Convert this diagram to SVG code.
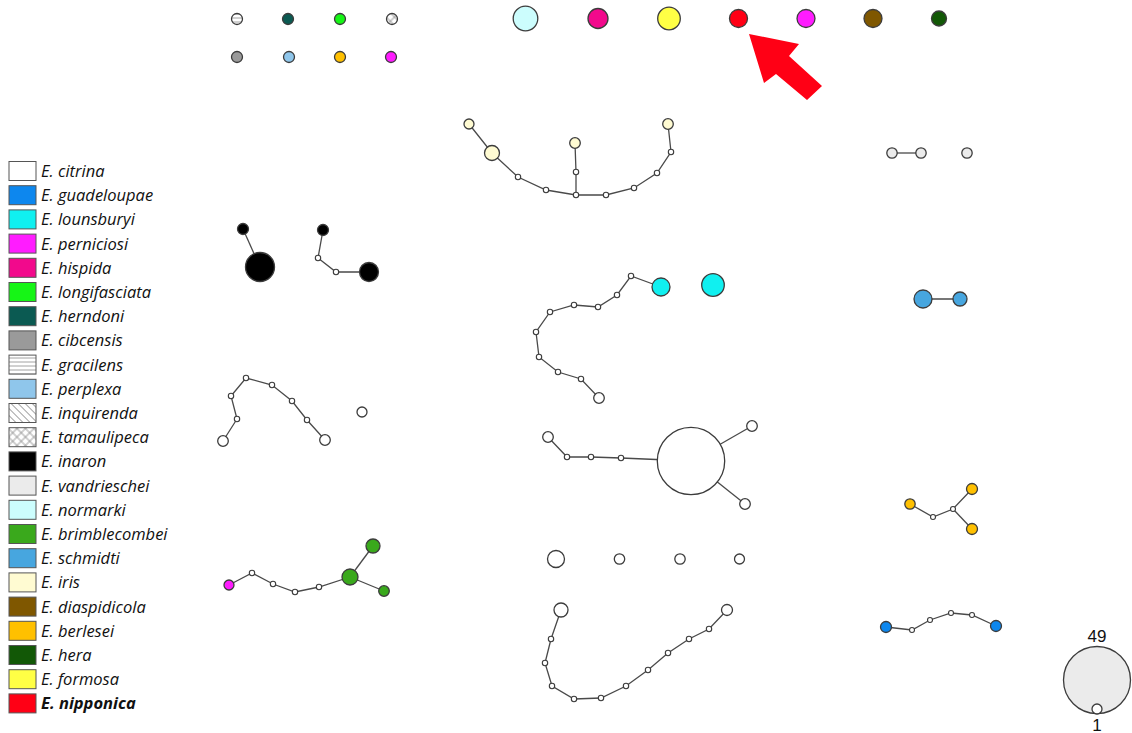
<svg xmlns="http://www.w3.org/2000/svg" width="1132" height="733" viewBox="0 0 1132 733">
<defs>
<pattern id="pH" patternUnits="userSpaceOnUse" width="4" height="4"><rect width="4" height="4" fill="#fff"/><line x1="0" y1="2" x2="4" y2="2" stroke="#8a8a8a" stroke-width="0.8"/></pattern>
<pattern id="pD" patternUnits="userSpaceOnUse" width="5" height="5" patternTransform="rotate(-45)"><rect width="5" height="5" fill="#fff"/><line x1="2.5" y1="0" x2="2.5" y2="5" stroke="#8a8a8a" stroke-width="0.8"/></pattern>
<pattern id="pX" patternUnits="userSpaceOnUse" width="6" height="6" patternTransform="rotate(45)"><rect width="6" height="6" fill="#fff"/><line x1="3" y1="0" x2="3" y2="6" stroke="#8a8a8a" stroke-width="0.8"/><line x1="0" y1="3" x2="6" y2="3" stroke="#8a8a8a" stroke-width="0.8"/></pattern>
<style>
.n{stroke:#3c3c3c;stroke-width:1.3}
.h{fill:#fff;stroke:#3c3c3c;stroke-width:1.1}
.e line,.e polyline{stroke:#4a4a4a;stroke-width:1.3;fill:none}
.lg rect{stroke:#555;stroke-width:1}
.lg text{font-family:"Open Sans","Noto Sans","Liberation Sans",sans-serif;font-style:italic;font-size:16.5px;fill:#111}
.cit{fill:#fff}.gua{fill:#0d87ee}.lou{fill:#10f0f0}.per{fill:#ff1cff}.his{fill:#f2098c}.lon{fill:#16f516}
.her{fill:#0b5a52}.cib{fill:#9a9a9a}.gra{fill:url(#pH)}.ppx{fill:#8fc6eb}.inq{fill:url(#pD)}.tam{fill:url(#pX)}
.ina{fill:#000}.van{fill:#ebebeb}.nor{fill:#ccfdfd}.bri{fill:#3aa91c}.sch{fill:#47a6df}.iri{fill:#fffbd2}
.dia{fill:#7f5700}.ber{fill:#ffc000}.hra{fill:#125806}.frm{fill:#ffff45}.nip{fill:#ff0015}
.num{font-family:"Liberation Sans",Arial,sans-serif;font-size:17px;fill:#111;text-anchor:middle}
</style>
</defs>
<rect width="1132" height="733" fill="#fff"/>

<g id="legend" class="lg">
<rect x="9" y="161.5" width="27" height="19" class="cit"/><text x="41" y="177">E. citrina</text>
<rect x="9" y="185.7" width="27" height="19" class="gua"/><text x="41" y="201.2">E. guadeloupae</text>
<rect x="9" y="209.9" width="27" height="19" class="lou"/><text x="41" y="225.4">E. lounsburyi</text>
<rect x="9" y="234.1" width="27" height="19" class="per"/><text x="41" y="249.6">E. perniciosi</text>
<rect x="9" y="258.3" width="27" height="19" class="his"/><text x="41" y="273.8">E. hispida</text>
<rect x="9" y="282.5" width="27" height="19" class="lon"/><text x="41" y="298">E. longifasciata</text>
<rect x="9" y="306.7" width="27" height="19" class="her"/><text x="41" y="322.2">E. herndoni</text>
<rect x="9" y="330.9" width="27" height="19" class="cib"/><text x="41" y="346.4">E. cibcensis</text>
<rect x="9" y="355.1" width="27" height="19" class="gra"/><text x="41" y="370.6">E. gracilens</text>
<rect x="9" y="379.3" width="27" height="19" class="ppx"/><text x="41" y="394.8">E. perplexa</text>
<rect x="9" y="403.5" width="27" height="19" class="inq"/><text x="41" y="419">E. inquirenda</text>
<rect x="9" y="427.7" width="27" height="19" class="tam"/><text x="41" y="443.2">E. tamaulipeca</text>
<rect x="9" y="451.9" width="27" height="19" class="ina"/><text x="41" y="467.4">E. inaron</text>
<rect x="9" y="476.1" width="27" height="19" class="van"/><text x="41" y="491.6">E. vandrieschei</text>
<rect x="9" y="500.3" width="27" height="19" class="nor"/><text x="41" y="515.8">E. normarki</text>
<rect x="9" y="524.5" width="27" height="19" class="bri"/><text x="41" y="540">E. brimblecombei</text>
<rect x="9" y="548.7" width="27" height="19" class="sch"/><text x="41" y="564.2">E. schmidti</text>
<rect x="9" y="572.9" width="27" height="19" class="iri"/><text x="41" y="588.4">E. iris</text>
<rect x="9" y="597.1" width="27" height="19" class="dia"/><text x="41" y="612.6">E. diaspidicola</text>
<rect x="9" y="621.3" width="27" height="19" class="ber"/><text x="41" y="636.8">E. berlesei</text>
<rect x="9" y="645.5" width="27" height="19" class="hra"/><text x="41" y="661">E. hera</text>
<rect x="9" y="669.7" width="27" height="19" class="frm"/><text x="41" y="685.2">E. formosa</text>
<rect x="9" y="693.9" width="27" height="19" class="nip"/><text x="41" y="709.4" font-weight="bold">E. nipponica</text>
</g>

<g id="arrow"><polygon points="749,34 799,44 789,56 822,86 807,100 776,74 764,83" fill="#ff0015"/></g>

<g id="connectors" class="e">
<polyline points="469,124 492,153 518,177 546,190 576,195 606,195 634,188 657,173 671,152 668,124"/>
<polyline points="576,195 576,172 575,143"/>
<line x1="243" y1="229" x2="260" y2="267"/>
<polyline points="323,230 318,258 336,272 369,272"/>
<polyline points="661,287 631,276 617,295 598,307 574,305 550,312 536,332 539,357 558,372 581,379 599,398"/>
<polyline points="223,441 237,419 231,396 246,378 272,385 292,401 307,420 325,440"/>
<polyline points="548,437 567,457 591,457 621,458 691,461"/>
<line x1="691" y1="461" x2="752" y2="426"/>
<line x1="691" y1="461" x2="745" y2="504"/>
<polyline points="229,585 252,573 273,584 295,592 319,587 350,577"/>
<line x1="350" y1="577" x2="373" y2="546"/>
<line x1="350" y1="577" x2="384" y2="591"/>
<polyline points="561,610 551,639 545,663 552,686 574,699 601,698 626,686 648,670 668,653 689,639 709,629 727,610"/>
<line x1="892" y1="153" x2="921" y2="153"/>
<line x1="923" y1="299" x2="960" y2="299"/>
<polyline points="910,504 933,517 953,509 972,489"/>
<line x1="953" y1="509" x2="972" y2="529"/>
<polyline points="886,627 912,630 930,620 951,613 972,615 996,626"/>
</g>

<g id="singles">
<g id="s1"><circle cx="237" cy="19" r="5.5" class="n gra"/></g>
<g id="s2"><circle cx="288" cy="19" r="5.5" class="n her"/></g>
<g id="s3"><circle cx="340" cy="19" r="5.5" class="n lon"/></g>
<g id="s4"><circle cx="392" cy="19" r="5.5" class="n tam"/></g>
<g id="s5"><circle cx="237" cy="57" r="5.5" class="n cib"/></g>
<g id="s6"><circle cx="289" cy="57" r="5.5" class="n ppx"/></g>
<g id="s7"><circle cx="340" cy="57" r="5.5" class="n ber"/></g>
<g id="s8"><circle cx="391" cy="57" r="5.5" class="n per"/></g>
<g id="s9"><circle cx="525.5" cy="18.5" r="12.3" class="n nor"/></g>
<g id="s10"><circle cx="598" cy="18.5" r="10" class="n his"/></g>
<g id="s11"><circle cx="669" cy="18.5" r="11.3" class="n frm"/></g>
<g id="s12"><circle cx="738.5" cy="18.5" r="9" class="n nip"/></g>
<g id="s13"><circle cx="806" cy="18.5" r="9" class="n per"/></g>
<g id="s14"><circle cx="873" cy="18.5" r="9" class="n dia"/></g>
<g id="s15"><circle cx="939" cy="18.5" r="7.5" class="n hra"/></g>
</g>

<g id="iris-net">
<g id="i1"><circle cx="469" cy="124" r="5" class="n iri"/></g>
<g id="i2"><circle cx="492" cy="153" r="7.5" class="n iri"/></g>
<g id="i3"><circle cx="518" cy="177" r="2.7" class="h"/></g>
<g id="i4"><circle cx="546" cy="190" r="2.7" class="h"/></g>
<g id="i5"><circle cx="576" cy="195" r="2.7" class="h"/></g>
<g id="i6"><circle cx="576" cy="172" r="2.7" class="h"/></g>
<g id="i7"><circle cx="575" cy="143" r="5.3" class="n iri"/></g>
<g id="i8"><circle cx="606" cy="195" r="2.7" class="h"/></g>
<g id="i9"><circle cx="634" cy="188" r="2.7" class="h"/></g>
<g id="i10"><circle cx="657" cy="173" r="2.7" class="h"/></g>
<g id="i11"><circle cx="671" cy="152" r="2.7" class="h"/></g>
<g id="i12"><circle cx="668" cy="124" r="5.3" class="n iri"/></g>
</g>

<g id="inaron-net">
<g id="a1"><circle cx="243" cy="229" r="5.5" class="n ina"/></g>
<g id="a2"><circle cx="260" cy="267" r="14.5" class="n ina"/></g>
<g id="a3"><circle cx="323" cy="230" r="5.5" class="n ina"/></g>
<g id="a4"><circle cx="318" cy="258" r="2.7" class="h"/></g>
<g id="a5"><circle cx="336" cy="272" r="2.7" class="h"/></g>
<g id="a6"><circle cx="369" cy="272" r="9.5" class="n ina"/></g>
</g>

<g id="lounsburyi-net">
<g id="l1"><circle cx="661" cy="287" r="9" class="n lou"/></g>
<g id="l2"><circle cx="713" cy="285" r="11.3" class="n lou"/></g>
<g id="l3"><circle cx="631" cy="276" r="2.7" class="h"/></g>
<g id="l4"><circle cx="617" cy="295" r="2.7" class="h"/></g>
<g id="l5"><circle cx="598" cy="307" r="2.7" class="h"/></g>
<g id="l6"><circle cx="574" cy="305" r="2.7" class="h"/></g>
<g id="l7"><circle cx="550" cy="312" r="2.7" class="h"/></g>
<g id="l8"><circle cx="536" cy="332" r="2.7" class="h"/></g>
<g id="l9"><circle cx="539" cy="357" r="2.7" class="h"/></g>
<g id="l10"><circle cx="558" cy="372" r="2.7" class="h"/></g>
<g id="l11"><circle cx="581" cy="379" r="2.7" class="h"/></g>
<g id="l12"><circle cx="599" cy="398" r="5.3" class="n cit"/></g>
</g>

<g id="citrina-arc">
<g id="c1"><circle cx="223" cy="441" r="5.3" class="n cit"/></g>
<g id="c2"><circle cx="237" cy="419" r="2.7" class="h"/></g>
<g id="c3"><circle cx="231" cy="396" r="2.7" class="h"/></g>
<g id="c4"><circle cx="246" cy="378" r="2.7" class="h"/></g>
<g id="c5"><circle cx="272" cy="385" r="2.7" class="h"/></g>
<g id="c6"><circle cx="292" cy="401" r="2.7" class="h"/></g>
<g id="c7"><circle cx="307" cy="420" r="2.7" class="h"/></g>
<g id="c8"><circle cx="325" cy="440" r="5.3" class="n cit"/></g>
<g id="c9"><circle cx="362" cy="412" r="5" class="n cit"/></g>
</g>

<g id="citrina-hub">
<g id="b1"><circle cx="548" cy="437" r="5.3" class="n cit"/></g>
<g id="b2"><circle cx="567" cy="457" r="2.7" class="h"/></g>
<g id="b3"><circle cx="591" cy="457" r="2.7" class="h"/></g>
<g id="b4"><circle cx="621" cy="458" r="2.7" class="h"/></g>
<g id="b5"><circle cx="691" cy="461" r="33.7" class="n cit"/></g>
<g id="b6"><circle cx="752" cy="426" r="5.3" class="n cit"/></g>
<g id="b7"><circle cx="745" cy="504" r="5.3" class="n cit"/></g>
</g>

<g id="brimblecombei-net">
<g id="g1"><circle cx="229" cy="585" r="5" class="n per"/></g>
<g id="g2"><circle cx="252" cy="573" r="2.7" class="h"/></g>
<g id="g3"><circle cx="273" cy="584" r="2.7" class="h"/></g>
<g id="g4"><circle cx="295" cy="592" r="2.7" class="h"/></g>
<g id="g5"><circle cx="319" cy="587" r="2.7" class="h"/></g>
<g id="g6"><circle cx="350" cy="577" r="8" class="n bri"/></g>
<g id="g7"><circle cx="373" cy="546" r="7" class="n bri"/></g>
<g id="g8"><circle cx="384" cy="591" r="5.3" class="n bri"/></g>
</g>

<g id="citrina-row">
<g id="r1"><circle cx="556" cy="559" r="8.5" class="n cit"/></g>
<g id="r2"><circle cx="619.5" cy="559" r="5.2" class="n cit"/></g>
<g id="r3"><circle cx="680" cy="559" r="5.2" class="n cit"/></g>
<g id="r4"><circle cx="739.5" cy="559" r="5" class="n cit"/></g>
</g>

<g id="citrina-chain">
<g id="k1"><circle cx="561" cy="610" r="7" class="n cit"/></g>
<g id="k2"><circle cx="551" cy="639" r="2.7" class="h"/></g>
<g id="k3"><circle cx="545" cy="663" r="2.7" class="h"/></g>
<g id="k4"><circle cx="552" cy="686" r="2.7" class="h"/></g>
<g id="k5"><circle cx="574" cy="699" r="2.7" class="h"/></g>
<g id="k6"><circle cx="601" cy="698" r="2.7" class="h"/></g>
<g id="k7"><circle cx="626" cy="686" r="2.7" class="h"/></g>
<g id="k8"><circle cx="648" cy="670" r="2.7" class="h"/></g>
<g id="k9"><circle cx="668" cy="653" r="2.7" class="h"/></g>
<g id="k10"><circle cx="689" cy="639" r="2.7" class="h"/></g>
<g id="k11"><circle cx="709" cy="629" r="2.7" class="h"/></g>
<g id="k12"><circle cx="727" cy="610" r="5.5" class="n cit"/></g>
</g>

<g id="vandrieschei">
<g id="v1"><circle cx="892" cy="153" r="5.2" class="n van"/></g>
<g id="v2"><circle cx="921" cy="153" r="5.2" class="n van"/></g>
<g id="v3"><circle cx="967" cy="153" r="5.2" class="n van"/></g>
</g>

<g id="schmidti">
<g id="m1"><circle cx="923" cy="299" r="9" class="n sch"/></g>
<g id="m2"><circle cx="960" cy="299" r="7" class="n sch"/></g>
</g>

<g id="berlesei">
<g id="e1"><circle cx="910" cy="504" r="5.2" class="n ber"/></g>
<g id="e2"><circle cx="933" cy="517" r="2.5" class="h"/></g>
<g id="e3"><circle cx="953" cy="509" r="2.5" class="h"/></g>
<g id="e4"><circle cx="972" cy="489" r="5.5" class="n ber"/></g>
<g id="e5"><circle cx="972" cy="529" r="5.5" class="n ber"/></g>
</g>

<g id="guadeloupae">
<g id="u1"><circle cx="886" cy="627" r="5.5" class="n gua"/></g>
<g id="u2"><circle cx="912" cy="630" r="2.5" class="h"/></g>
<g id="u3"><circle cx="930" cy="620" r="2.5" class="h"/></g>
<g id="u4"><circle cx="951" cy="613" r="2.5" class="h"/></g>
<g id="u5"><circle cx="972" cy="615" r="2.5" class="h"/></g>
<g id="u6"><circle cx="996" cy="626" r="5.5" class="n gua"/></g>
</g>

<g id="scale">
<circle cx="1097" cy="680" r="33.5" class="n van"/>
<circle cx="1097" cy="709" r="5" class="n cit"/>
<text x="1097" y="642" class="num">49</text>
<text x="1097" y="731" class="num" font-size="16">1</text>
</g>
</svg>
